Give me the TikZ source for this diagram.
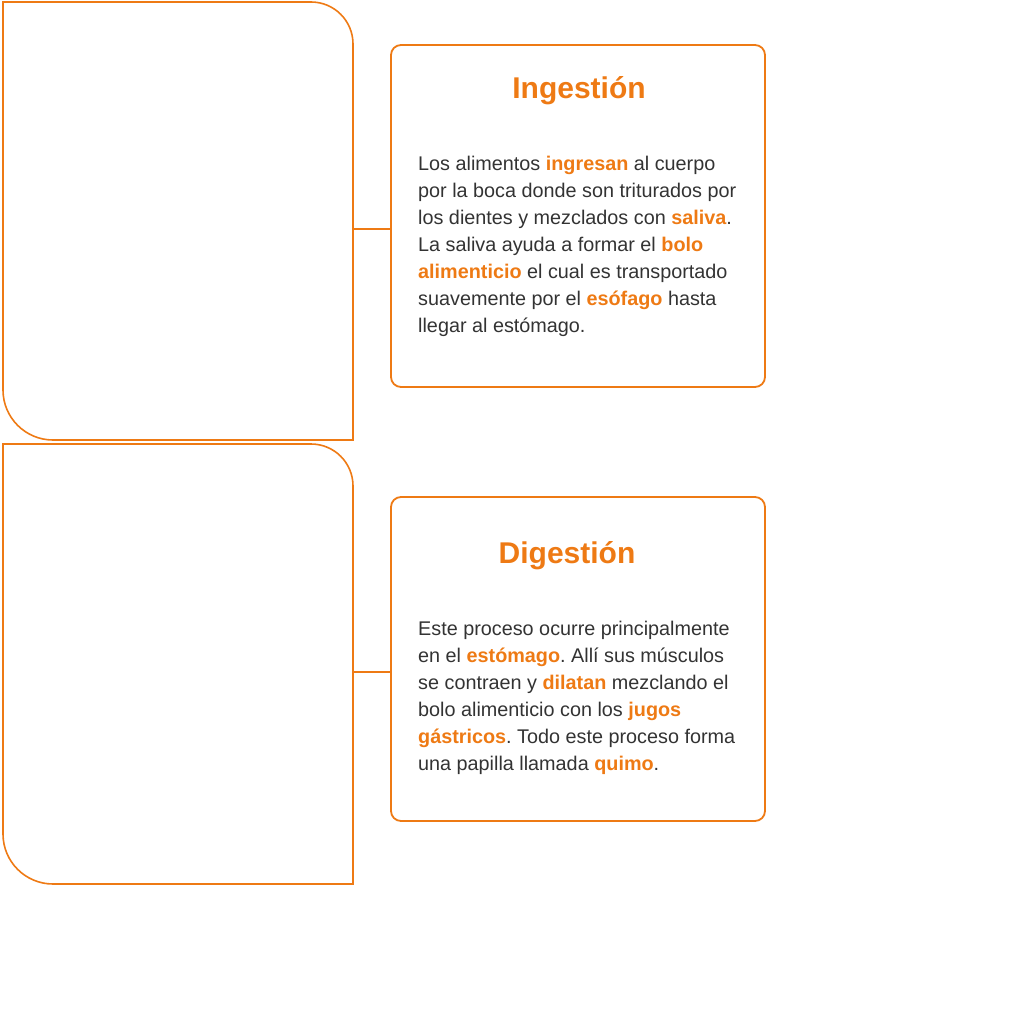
\documentclass[tikz,border=0pt]{standalone}
\usepackage{fontspec}
\setmainfont{Liberation Sans}
\usetikzlibrary{positioning}
\definecolor{brandorange}{HTML}{EE7A14}
\definecolor{bodygray}{HTML}{333333}
\newcommand{\keyw}[1]{{\bfseries\color{brandorange}#1}}
\frenchspacing

\begin{document}
\begin{tikzpicture}[x=1pt, y=1pt,
        frame/.style={draw=brandorange, line width=1.6pt},
        card/.style={rectangle, rounded corners=10pt, draw=brandorange, line width=1.8pt, minimum width=374pt},
        cardtitle/.style={anchor=base, text=brandorange, font=\fontsize{30}{34}\selectfont\bfseries, inner sep=0pt},
        cardbody/.style={anchor=north west, text=bodygray, align=left, inner sep=0pt, font=\fontsize{19.8}{27}\selectfont},
        link/.style={draw=brandorange, line width=1.6pt},
    ]
    \useasboundingbox (0,0) rectangle (1024,-1024);

    % left frames
    \draw[frame] (3,-2) -- (311,-2) arc[start angle=90, end angle=0, radius=42] -- (353,-440) -- (53,-440) arc[start angle=270, end angle=180, radius=50] -- cycle;
    \draw[frame] (3,-444) -- (311,-444) arc[start angle=90, end angle=0, radius=42] -- (353,-884) -- (53,-884) arc[start angle=270, end angle=180, radius=50] -- cycle;
    \coordinate (ingFrame) at (353,-229);
    \coordinate (digFrame) at (353,-672);

    % cards
    \node[card, minimum height=342pt] (ingBox) at (578,-216) {};
    \node[card, minimum height=324pt] (digBox) at (578,-659) {};

    \node[cardtitle] (ingTitle) at (579,-99) {Ingestión};
    \node[cardtitle] (digTitle) at (567,-563) {Digestión};

    \node[cardbody] (ingText) at (418,-156) {Los alimentos \keyw{ingresan} al cuerpo\\
        por la boca donde son triturados por\\
        los dientes y mezclados con \keyw{saliva}.\\
        La saliva ayuda a formar el \keyw{bolo}\\
        \keyw{alimenticio} el cual es transportado\\
        suavemente por el \keyw{esófago} hasta\\
        llegar al estómago.};
    \node[cardbody] (digText) at (418,-621) {Este proceso ocurre principalmente\\
        en el \keyw{estómago}. Allí sus músculos\\
        se contraen y \keyw{dilatan} mezclando el\\
        bolo alimenticio con los \keyw{jugos}\\
        \keyw{gástricos}. Todo este proceso forma\\
        una papilla llamada \keyw{quimo}.};

    \path[link] (ingFrame) -- (ingFrame -| ingBox.west);
    \path[link] (digFrame) -- (digFrame -| digBox.west);
\end{tikzpicture}
\end{document}
